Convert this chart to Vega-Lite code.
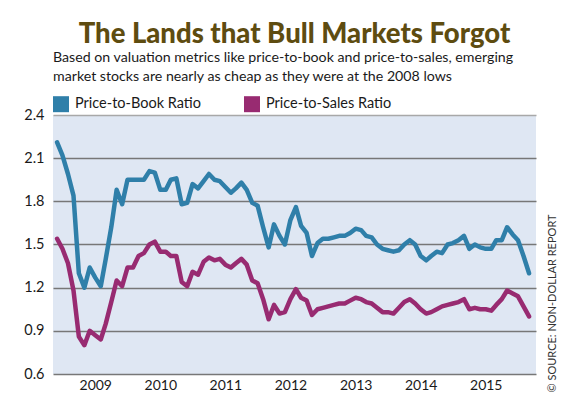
{
"$schema": "https://vega.github.io/schema/vega-lite/v6.json",
"width": 483, "height": 259,
"autosize": {"type": "none"},
"padding": {"left": 53, "top": 115, "right": 44, "bottom": 44},
"background": "white",
"title": {"text": "The Lands that Bull Markets Forgot", "anchor": "middle", "frame": "group", "font": "Lato", "fontSize": 27.5, "fontWeight": 900, "color": "#5e4c10", "offset": 3},
"data": {"values": [
{"date":"2008-06-01","series":"Price-to-Book Ratio","value":2.21},
{"date":"2008-07-01","series":"Price-to-Book Ratio","value":2.12},
{"date":"2008-08-01","series":"Price-to-Book Ratio","value":1.99},
{"date":"2008-09-01","series":"Price-to-Book Ratio","value":1.84},
{"date":"2008-10-01","series":"Price-to-Book Ratio","value":1.30},
{"date":"2008-11-01","series":"Price-to-Book Ratio","value":1.20},
{"date":"2008-12-01","series":"Price-to-Book Ratio","value":1.34},
{"date":"2009-01-01","series":"Price-to-Book Ratio","value":1.27},
{"date":"2009-02-01","series":"Price-to-Book Ratio","value":1.21},
{"date":"2009-03-01","series":"Price-to-Book Ratio","value":1.40},
{"date":"2009-04-01","series":"Price-to-Book Ratio","value":1.62},
{"date":"2009-05-01","series":"Price-to-Book Ratio","value":1.88},
{"date":"2009-06-01","series":"Price-to-Book Ratio","value":1.78},
{"date":"2009-07-01","series":"Price-to-Book Ratio","value":1.95},
{"date":"2009-08-01","series":"Price-to-Book Ratio","value":1.95},
{"date":"2009-09-01","series":"Price-to-Book Ratio","value":1.95},
{"date":"2009-10-01","series":"Price-to-Book Ratio","value":1.95},
{"date":"2009-11-01","series":"Price-to-Book Ratio","value":2.01},
{"date":"2009-12-01","series":"Price-to-Book Ratio","value":2.00},
{"date":"2010-01-01","series":"Price-to-Book Ratio","value":1.88},
{"date":"2010-02-01","series":"Price-to-Book Ratio","value":1.88},
{"date":"2010-03-01","series":"Price-to-Book Ratio","value":1.95},
{"date":"2010-04-01","series":"Price-to-Book Ratio","value":1.96},
{"date":"2010-05-01","series":"Price-to-Book Ratio","value":1.78},
{"date":"2010-06-01","series":"Price-to-Book Ratio","value":1.79},
{"date":"2010-07-01","series":"Price-to-Book Ratio","value":1.92},
{"date":"2010-08-01","series":"Price-to-Book Ratio","value":1.89},
{"date":"2010-09-01","series":"Price-to-Book Ratio","value":1.94},
{"date":"2010-10-01","series":"Price-to-Book Ratio","value":1.99},
{"date":"2010-11-01","series":"Price-to-Book Ratio","value":1.95},
{"date":"2010-12-01","series":"Price-to-Book Ratio","value":1.94},
{"date":"2011-01-01","series":"Price-to-Book Ratio","value":1.90},
{"date":"2011-02-01","series":"Price-to-Book Ratio","value":1.86},
{"date":"2011-03-01","series":"Price-to-Book Ratio","value":1.89},
{"date":"2011-04-01","series":"Price-to-Book Ratio","value":1.93},
{"date":"2011-05-01","series":"Price-to-Book Ratio","value":1.88},
{"date":"2011-06-01","series":"Price-to-Book Ratio","value":1.79},
{"date":"2011-07-01","series":"Price-to-Book Ratio","value":1.77},
{"date":"2011-08-01","series":"Price-to-Book Ratio","value":1.62},
{"date":"2011-09-01","series":"Price-to-Book Ratio","value":1.48},
{"date":"2011-10-01","series":"Price-to-Book Ratio","value":1.64},
{"date":"2011-11-01","series":"Price-to-Book Ratio","value":1.56},
{"date":"2011-12-01","series":"Price-to-Book Ratio","value":1.50},
{"date":"2012-01-01","series":"Price-to-Book Ratio","value":1.67},
{"date":"2012-02-01","series":"Price-to-Book Ratio","value":1.76},
{"date":"2012-03-01","series":"Price-to-Book Ratio","value":1.63},
{"date":"2012-04-01","series":"Price-to-Book Ratio","value":1.58},
{"date":"2012-05-01","series":"Price-to-Book Ratio","value":1.42},
{"date":"2012-06-01","series":"Price-to-Book Ratio","value":1.51},
{"date":"2012-07-01","series":"Price-to-Book Ratio","value":1.54},
{"date":"2012-08-01","series":"Price-to-Book Ratio","value":1.54},
{"date":"2012-09-01","series":"Price-to-Book Ratio","value":1.55},
{"date":"2012-10-01","series":"Price-to-Book Ratio","value":1.56},
{"date":"2012-11-01","series":"Price-to-Book Ratio","value":1.56},
{"date":"2012-12-01","series":"Price-to-Book Ratio","value":1.58},
{"date":"2013-01-01","series":"Price-to-Book Ratio","value":1.61},
{"date":"2013-02-01","series":"Price-to-Book Ratio","value":1.60},
{"date":"2013-03-01","series":"Price-to-Book Ratio","value":1.56},
{"date":"2013-04-01","series":"Price-to-Book Ratio","value":1.55},
{"date":"2013-05-01","series":"Price-to-Book Ratio","value":1.50},
{"date":"2013-06-01","series":"Price-to-Book Ratio","value":1.47},
{"date":"2013-07-01","series":"Price-to-Book Ratio","value":1.46},
{"date":"2013-08-01","series":"Price-to-Book Ratio","value":1.45},
{"date":"2013-09-01","series":"Price-to-Book Ratio","value":1.46},
{"date":"2013-10-01","series":"Price-to-Book Ratio","value":1.50},
{"date":"2013-11-01","series":"Price-to-Book Ratio","value":1.53},
{"date":"2013-12-01","series":"Price-to-Book Ratio","value":1.50},
{"date":"2014-01-01","series":"Price-to-Book Ratio","value":1.42},
{"date":"2014-02-01","series":"Price-to-Book Ratio","value":1.39},
{"date":"2014-03-01","series":"Price-to-Book Ratio","value":1.42},
{"date":"2014-04-01","series":"Price-to-Book Ratio","value":1.45},
{"date":"2014-05-01","series":"Price-to-Book Ratio","value":1.44},
{"date":"2014-06-01","series":"Price-to-Book Ratio","value":1.50},
{"date":"2014-07-01","series":"Price-to-Book Ratio","value":1.51},
{"date":"2014-08-01","series":"Price-to-Book Ratio","value":1.53},
{"date":"2014-09-01","series":"Price-to-Book Ratio","value":1.56},
{"date":"2014-10-01","series":"Price-to-Book Ratio","value":1.47},
{"date":"2014-11-01","series":"Price-to-Book Ratio","value":1.50},
{"date":"2014-12-01","series":"Price-to-Book Ratio","value":1.48},
{"date":"2015-01-01","series":"Price-to-Book Ratio","value":1.47},
{"date":"2015-02-01","series":"Price-to-Book Ratio","value":1.47},
{"date":"2015-03-01","series":"Price-to-Book Ratio","value":1.53},
{"date":"2015-04-01","series":"Price-to-Book Ratio","value":1.53},
{"date":"2015-05-01","series":"Price-to-Book Ratio","value":1.62},
{"date":"2015-06-01","series":"Price-to-Book Ratio","value":1.57},
{"date":"2015-07-01","series":"Price-to-Book Ratio","value":1.53},
{"date":"2015-08-01","series":"Price-to-Book Ratio","value":1.42},
{"date":"2015-09-01","series":"Price-to-Book Ratio","value":1.30},
{"date":"2008-06-01","series":"Price-to-Sales Ratio","value":1.54},
{"date":"2008-07-01","series":"Price-to-Sales Ratio","value":1.47},
{"date":"2008-08-01","series":"Price-to-Sales Ratio","value":1.37},
{"date":"2008-09-01","series":"Price-to-Sales Ratio","value":1.18},
{"date":"2008-10-01","series":"Price-to-Sales Ratio","value":0.86},
{"date":"2008-11-01","series":"Price-to-Sales Ratio","value":0.80},
{"date":"2008-12-01","series":"Price-to-Sales Ratio","value":0.90},
{"date":"2009-01-01","series":"Price-to-Sales Ratio","value":0.87},
{"date":"2009-02-01","series":"Price-to-Sales Ratio","value":0.84},
{"date":"2009-03-01","series":"Price-to-Sales Ratio","value":0.95},
{"date":"2009-04-01","series":"Price-to-Sales Ratio","value":1.10},
{"date":"2009-05-01","series":"Price-to-Sales Ratio","value":1.25},
{"date":"2009-06-01","series":"Price-to-Sales Ratio","value":1.21},
{"date":"2009-07-01","series":"Price-to-Sales Ratio","value":1.34},
{"date":"2009-08-01","series":"Price-to-Sales Ratio","value":1.34},
{"date":"2009-09-01","series":"Price-to-Sales Ratio","value":1.42},
{"date":"2009-10-01","series":"Price-to-Sales Ratio","value":1.44},
{"date":"2009-11-01","series":"Price-to-Sales Ratio","value":1.50},
{"date":"2009-12-01","series":"Price-to-Sales Ratio","value":1.52},
{"date":"2010-01-01","series":"Price-to-Sales Ratio","value":1.45},
{"date":"2010-02-01","series":"Price-to-Sales Ratio","value":1.45},
{"date":"2010-03-01","series":"Price-to-Sales Ratio","value":1.42},
{"date":"2010-04-01","series":"Price-to-Sales Ratio","value":1.42},
{"date":"2010-05-01","series":"Price-to-Sales Ratio","value":1.24},
{"date":"2010-06-01","series":"Price-to-Sales Ratio","value":1.21},
{"date":"2010-07-01","series":"Price-to-Sales Ratio","value":1.31},
{"date":"2010-08-01","series":"Price-to-Sales Ratio","value":1.29},
{"date":"2010-09-01","series":"Price-to-Sales Ratio","value":1.38},
{"date":"2010-10-01","series":"Price-to-Sales Ratio","value":1.41},
{"date":"2010-11-01","series":"Price-to-Sales Ratio","value":1.39},
{"date":"2010-12-01","series":"Price-to-Sales Ratio","value":1.40},
{"date":"2011-01-01","series":"Price-to-Sales Ratio","value":1.36},
{"date":"2011-02-01","series":"Price-to-Sales Ratio","value":1.34},
{"date":"2011-03-01","series":"Price-to-Sales Ratio","value":1.37},
{"date":"2011-04-01","series":"Price-to-Sales Ratio","value":1.40},
{"date":"2011-05-01","series":"Price-to-Sales Ratio","value":1.36},
{"date":"2011-06-01","series":"Price-to-Sales Ratio","value":1.25},
{"date":"2011-07-01","series":"Price-to-Sales Ratio","value":1.23},
{"date":"2011-08-01","series":"Price-to-Sales Ratio","value":1.12},
{"date":"2011-09-01","series":"Price-to-Sales Ratio","value":0.98},
{"date":"2011-10-01","series":"Price-to-Sales Ratio","value":1.08},
{"date":"2011-11-01","series":"Price-to-Sales Ratio","value":1.02},
{"date":"2011-12-01","series":"Price-to-Sales Ratio","value":1.03},
{"date":"2012-01-01","series":"Price-to-Sales Ratio","value":1.12},
{"date":"2012-02-01","series":"Price-to-Sales Ratio","value":1.19},
{"date":"2012-03-01","series":"Price-to-Sales Ratio","value":1.13},
{"date":"2012-04-01","series":"Price-to-Sales Ratio","value":1.11},
{"date":"2012-05-01","series":"Price-to-Sales Ratio","value":1.01},
{"date":"2012-06-01","series":"Price-to-Sales Ratio","value":1.05},
{"date":"2012-07-01","series":"Price-to-Sales Ratio","value":1.06},
{"date":"2012-08-01","series":"Price-to-Sales Ratio","value":1.07},
{"date":"2012-09-01","series":"Price-to-Sales Ratio","value":1.08},
{"date":"2012-10-01","series":"Price-to-Sales Ratio","value":1.09},
{"date":"2012-11-01","series":"Price-to-Sales Ratio","value":1.09},
{"date":"2012-12-01","series":"Price-to-Sales Ratio","value":1.11},
{"date":"2013-01-01","series":"Price-to-Sales Ratio","value":1.13},
{"date":"2013-02-01","series":"Price-to-Sales Ratio","value":1.12},
{"date":"2013-03-01","series":"Price-to-Sales Ratio","value":1.10},
{"date":"2013-04-01","series":"Price-to-Sales Ratio","value":1.09},
{"date":"2013-05-01","series":"Price-to-Sales Ratio","value":1.06},
{"date":"2013-06-01","series":"Price-to-Sales Ratio","value":1.03},
{"date":"2013-07-01","series":"Price-to-Sales Ratio","value":1.03},
{"date":"2013-08-01","series":"Price-to-Sales Ratio","value":1.02},
{"date":"2013-09-01","series":"Price-to-Sales Ratio","value":1.06},
{"date":"2013-10-01","series":"Price-to-Sales Ratio","value":1.10},
{"date":"2013-11-01","series":"Price-to-Sales Ratio","value":1.12},
{"date":"2013-12-01","series":"Price-to-Sales Ratio","value":1.09},
{"date":"2014-01-01","series":"Price-to-Sales Ratio","value":1.05},
{"date":"2014-02-01","series":"Price-to-Sales Ratio","value":1.02},
{"date":"2014-03-01","series":"Price-to-Sales Ratio","value":1.03},
{"date":"2014-04-01","series":"Price-to-Sales Ratio","value":1.05},
{"date":"2014-05-01","series":"Price-to-Sales Ratio","value":1.07},
{"date":"2014-06-01","series":"Price-to-Sales Ratio","value":1.08},
{"date":"2014-07-01","series":"Price-to-Sales Ratio","value":1.09},
{"date":"2014-08-01","series":"Price-to-Sales Ratio","value":1.10},
{"date":"2014-09-01","series":"Price-to-Sales Ratio","value":1.12},
{"date":"2014-10-01","series":"Price-to-Sales Ratio","value":1.05},
{"date":"2014-11-01","series":"Price-to-Sales Ratio","value":1.06},
{"date":"2014-12-01","series":"Price-to-Sales Ratio","value":1.05},
{"date":"2015-01-01","series":"Price-to-Sales Ratio","value":1.05},
{"date":"2015-02-01","series":"Price-to-Sales Ratio","value":1.04},
{"date":"2015-03-01","series":"Price-to-Sales Ratio","value":1.08},
{"date":"2015-04-01","series":"Price-to-Sales Ratio","value":1.12},
{"date":"2015-05-01","series":"Price-to-Sales Ratio","value":1.18},
{"date":"2015-06-01","series":"Price-to-Sales Ratio","value":1.16},
{"date":"2015-07-01","series":"Price-to-Sales Ratio","value":1.14},
{"date":"2015-08-01","series":"Price-to-Sales Ratio","value":1.07},
{"date":"2015-09-01","series":"Price-to-Sales Ratio","value":1.00}
]},
"layer": [
{"mark": {"type": "line", "strokeWidth": 4.5, "strokeJoin": "round", "strokeCap": "round"},
 "encoding": {
  "x": {"field": "date", "type": "temporal", "scale": {"domain": ["2008-05-09", "2015-10-10"]},
        "axis": {"title": null, "format": "%Y", "tickCount": "year", "domain": false, "ticks": false, "grid": false, "labelFont": "Lato", "labelFontSize": 14, "labelColor": "#1a1a1a", "labelPadding": 4, "labelFlush": false}},
  "y": {"field": "value", "type": "quantitative", "scale": {"domain": [0.6, 2.4], "nice": false, "zero": false},
        "axis": {"title": null, "values": [0.6, 0.9, 1.2, 1.5, 1.8, 2.1, 2.4], "format": ".1f", "domain": false, "ticks": false, "labelFont": "Lato", "labelFontSize": 14.5, "labelColor": "#1a1a1a", "labelPadding": 9, "gridColor": {"condition": {"test": "datum.value === 2.4", "value": "#a8a8a8"}, "value": "#777777"}, "gridWidth": 1.5}},
  "color": {"field": "series", "type": "nominal",
    "scale": {"domain": ["Price-to-Book Ratio", "Price-to-Sales Ratio"], "range": ["#2f7fa9", "#982b71"]},
    "legend": {"orient": "top", "direction": "horizontal",
      "title": ["Based on valuation metrics like price-to-book and price-to-sales, emerging", "market stocks are nearly as cheap as they were at the 2008 lows"],
      "titleFont": "Lato", "titleFontSize": 14.2, "titleFontWeight": "normal", "titleColor": "#1a1a1a", "titleLineHeight": 19, "titlePadding": 12, "titleLimit": 600,
      "labelFont": "Lato", "labelFontSize": 14.5, "labelColor": "#1a1a1a", "labelLimit": 300, "labelOffset": 6,
      "symbolType": "square", "symbolSize": 4, "symbolStrokeWidth": 14, "columnPadding": 22, "offset": -19, "padding": 0}}
 }},
{"mark": {"type": "point", "opacity": 0},
 "encoding": {
  "x": {"field": "date", "type": "temporal"},
  "y": {"field": "value", "type": "quantitative",
        "axis": {"orient": "right", "title": "© SOURCE: NON-DOLLAR REPORT", "labels": false, "ticks": false, "domain": false, "grid": false, "titleFont": "Lato", "titleFontSize": 11, "titleFontWeight": "normal", "titleColor": "#333333", "titleAngle": 270, "titleAnchor": "start", "titleAlign": "left", "titleBaseline": "middle", "titleX": 16, "titleY": 277}}
 }}
],
"resolve": {"axis": {"y": "independent"}},
"config": {"font": "Lato", "view": {"fill": "#dfe7f3", "stroke": null}}
}
